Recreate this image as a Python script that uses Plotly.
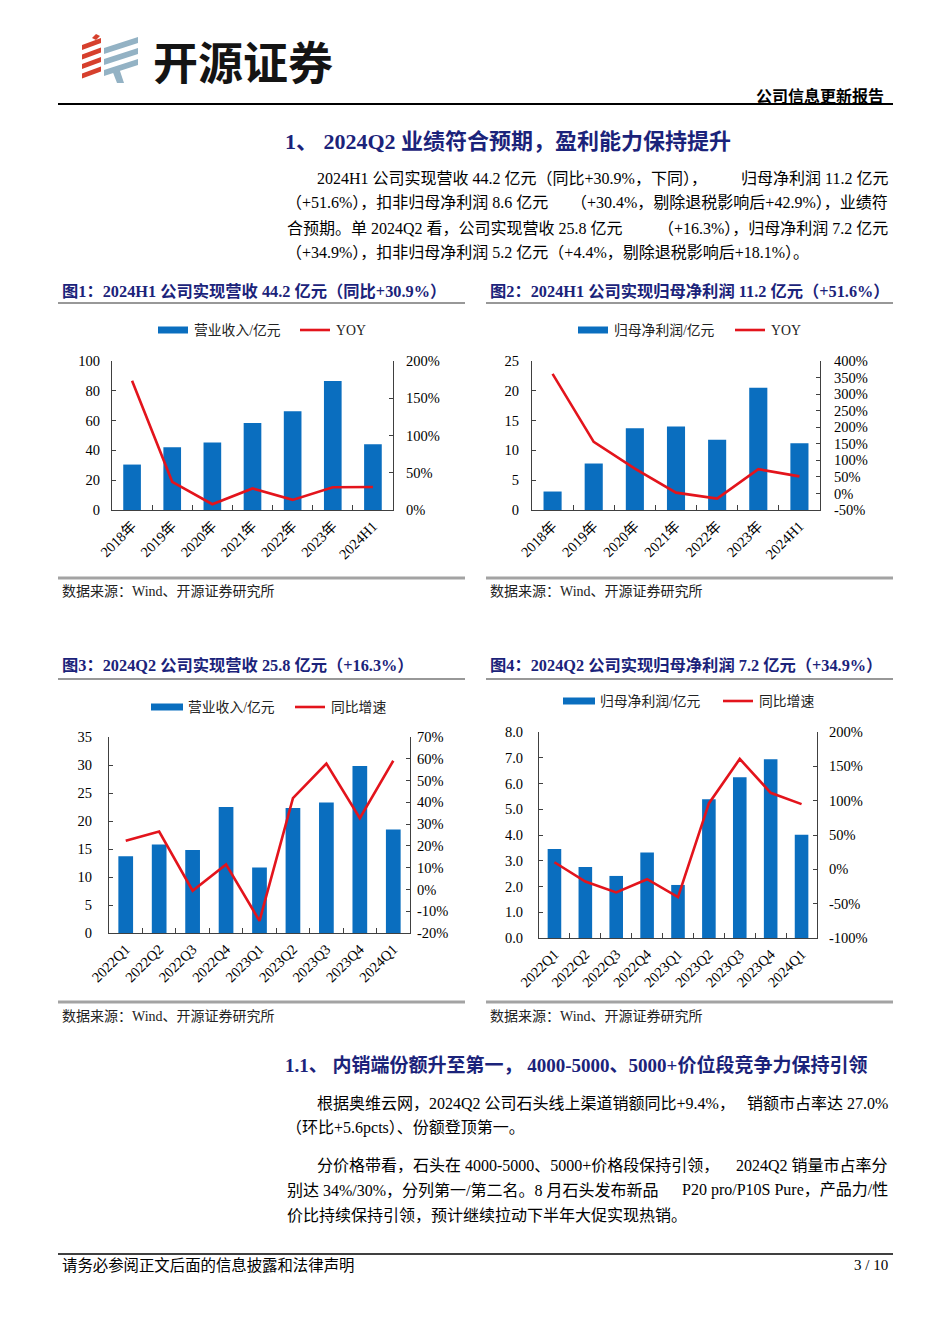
import plotly.graph_objects as go

# The page body adds an 8px margin, so the figure is drawn 8px smaller and
# all layout positions are expressed in page pixels, then shifted.
OFF = 8
W, H = 934, 1328


def X(px):
    return (px - OFF) / W


def Y(py):
    return 1 - (py - OFF) / H


# ---------------- data ----------------
cat_year = ["2018年", "2019年", "2020年", "2021年", "2022年", "2023年", "2024H1"]
revenue_year = [30.5, 42.1, 45.3, 58.4, 66.3, 86.5, 44.2]
revenue_year_yoy = [173.6, 37.8, 7.7, 28.9, 13.6, 30.6, 30.9]

profit_year = [3.1, 7.8, 13.7, 14.0, 11.8, 20.5, 11.2]
profit_year_yoy = [361.0, 155.7, 74.9, 2.4, -15.6, 73.3, 51.6]

cat_q = ["2022Q1", "2022Q2", "2022Q3", "2022Q4", "2023Q1", "2023Q2", "2023Q3", "2023Q4", "2024Q1"]
revenue_q = [13.7, 15.8, 14.8, 22.5, 11.7, 22.3, 23.3, 29.8, 18.5]
revenue_q_yoy = [22.4, 26.6, -0.6, 11.5, -14.4, 41.9, 57.8, 32.7, 59.1]

profit_q = [3.46, 2.76, 2.41, 3.32, 2.06, 5.39, 6.24, 6.94, 4.01]
profit_q_yoy = [10.3, -17.8, -33.7, -14.4, -40.5, 96.0, 160.8, 111.5, 95.0]

bar_names = ["营业收入/亿元", "归母净利润/亿元", "营业收入/亿元", "归母净利润/亿元"]
line_names = ["YOY", "YOY", "同比增速", "同比增速"]

left_ticks = [list(range(0, 101, 20)), list(range(0, 26, 5)), list(range(0, 36, 5)),
              [0, 1, 2, 3, 4, 5, 6, 7, 8]]
right_ticks = [list(range(0, 201, 50)), list(range(-50, 401, 50)), list(range(-20, 71, 10)),
               list(range(-100, 201, 50))]

# ---------------- style ----------------
BLUE = "#0A6EBF"
RED = "#E3141C"
NAVY = "#1B237A"
AX = "#404040"
SERIF = "Liberation Serif, Noto Sans CJK SC"
CJK = "Noto Sans CJK SC"
TICK = 14.5

charts = [
    dict(cats=cat_year, bars=revenue_year, line=revenue_year_yoy,
         xd=(112, 393), yd=(361, 510), lstand=8, rstand=9, lfmt="d",
         leg=dict(y=330, rect=(158, 188), txt=192, ln=(300, 330), ltxt=334)),
    dict(cats=cat_year, bars=profit_year, line=profit_year_yoy,
         xd=(532, 820), yd=(361, 510), lstand=9, rstand=10, lfmt="d",
         leg=dict(y=330, rect=(578, 608), txt=612, ln=(735, 765), ltxt=769)),
    dict(cats=cat_q, bars=revenue_q, line=revenue_q_yoy,
         xd=(109, 410), yd=(737, 933), lstand=13, rstand=3, lfmt="d",
         leg=dict(y=707, rect=(151, 183), txt=186, ln=(295, 325), ltxt=329)),
    dict(cats=cat_q, bars=profit_q, line=profit_q_yoy,
         xd=(539, 817), yd=(732, 938), lstand=12, rstand=8, lfmt=".1f",
         leg=dict(y=701, rect=(563, 595), txt=598, ln=(723, 753), ltxt=757)),
]

fig = go.Figure()
layout = dict(
    width=W, height=H, autosize=False,
    margin=dict(l=0, r=0, t=0, b=0, pad=0, autoexpand=False),
    paper_bgcolor="white", plot_bgcolor="rgba(0,0,0,0)",
    showlegend=False,
    font=dict(family=SERIF, color="#000"),
)
shapes = []
annotations = []

for i, c in enumerate(charts):
    n = i + 1
    xid = "x" if n == 1 else f"x{n}"
    yl = 2 * n - 1
    yr = 2 * n
    ylid = "y" if yl == 1 else f"y{yl}"
    yrid = f"y{yr}"
    fig.add_trace(go.Bar(x=c["cats"], y=c["bars"], name=bar_names[i], marker_color=BLUE,
                         marker_line_width=0, width=0.44, xaxis=xid, yaxis=ylid))
    fig.add_trace(go.Scatter(x=c["cats"], y=c["line"], name=line_names[i], mode="lines",
                             line=dict(color=RED, width=2.6), xaxis=xid, yaxis=yrid))
    xkey = "xaxis" if n == 1 else f"xaxis{n}"
    ylkey = "yaxis" if yl == 1 else f"yaxis{yl}"
    yrkey = f"yaxis{yr}"
    ydom = [Y(c["yd"][1]), Y(c["yd"][0])]
    layout[xkey] = dict(
        domain=[X(c["xd"][0]), X(c["xd"][1])], anchor=ylid, type="category",
        showline=True, linecolor=AX, linewidth=1, showgrid=False, zeroline=False,
        ticks="inside", tickson="boundaries", ticklen=5, tickcolor=AX,
        tickangle=-45, tickfont=dict(family=SERIF, size=TICK, color="#000"),
        ticklabelstandoff=1,
    )
    lt = left_ticks[i]
    rt = right_ticks[i]
    layout[ylkey] = dict(
        domain=ydom, anchor=xid, range=[lt[0], lt[-1]],
        tickvals=lt, tickformat=c["lfmt"],
        showline=True, linecolor=AX, linewidth=1, showgrid=False, zeroline=False,
        ticks="inside", ticklen=4, tickcolor=AX,
        tickfont=dict(family=SERIF, size=TICK, color="#000"),
        ticklabelstandoff=c["lstand"],
    )
    layout[yrkey] = dict(
        overlaying=ylid, side="right", anchor=xid, range=[rt[0], rt[-1]],
        tickvals=rt, ticktext=[f"{v}%" for v in rt],
        showline=True, linecolor=AX, linewidth=1, showgrid=False, zeroline=False,
        ticks="inside", ticklen=4, tickcolor=AX,
        tickfont=dict(family=SERIF, size=TICK, color="#000"),
        ticklabelstandoff=c["rstand"],
    )
    # manual legend
    lg = c["leg"]
    shapes.append(dict(type="rect", xref="paper", yref="paper",
                       x0=X(lg["rect"][0]), x1=X(lg["rect"][1]),
                       y0=Y(lg["y"] + 3.5), y1=Y(lg["y"] - 3.5),
                       fillcolor=BLUE, line=dict(width=0)))
    annotations.append(dict(x=X(lg["txt"]), y=Y(lg["y"]), xref="paper", yref="paper",
                            text=bar_names[i], showarrow=False, xanchor="left", yanchor="middle",
                            font=dict(family=SERIF, size=13.8, color="#222")))
    shapes.append(dict(type="line", xref="paper", yref="paper",
                       x0=X(lg["ln"][0]), x1=X(lg["ln"][1]), y0=Y(lg["y"]), y1=Y(lg["y"]),
                       line=dict(color=RED, width=2.6)))
    annotations.append(dict(x=X(lg["ltxt"]), y=Y(lg["y"]), xref="paper", yref="paper",
                            text=line_names[i], showarrow=False, xanchor="left", yanchor="middle",
                            font=dict(family=SERIF, size=13.8, color="#222")))


def hline(y, x0, x1, color="#000", width=1.0):
    shapes.append(dict(type="line", xref="paper", yref="paper", x0=X(x0), x1=X(x1),
                       y0=Y(y), y1=Y(y), line=dict(color=color, width=width)))


def text(x, y, s, size=16, color="#000", anchor="left", family=SERIF, bold=False):
    annotations.append(dict(x=X(x), y=Y(y), xref="paper", yref="paper", text=s, showarrow=False,
                            xanchor=anchor, yanchor="middle",
                            font=dict(family=family, size=size, color=color,
                                      weight="bold" if bold else "normal")))


# header
hline(104, 58, 893, "#000", 1.8)
text(886, 96, "公司信息更新报告", size=16, anchor="right", bold=True)
text(151, 60, "开源证券", size=45, family=CJK, bold=True, color="#141414")

# logo stripes
def poly(pts, color):
    d = "M " + " L ".join(f"{X(px)},{Y(py)}" for px, py in pts) + " Z"
    shapes.append(dict(type="path", xref="paper", yref="paper", path=d,
                       fillcolor=color, line=dict(width=0)))

for k in range(4):
    t = 38 + k * 9.5
    poly([(82, t + 7), (101, t), (101, t + 5), (82, t + 12)], "#D6402D")
poly([(92, 38), (96, 34), (100, 36), (96, 40)], "#D6402D")
for k in range(3):
    t = 37 + k * 11
    poly([(104, t + 11), (138, t), (138, t + 6), (104, t + 17)], "#93B2C4")
poly([(112, 70), (119, 68), (124, 83), (117, 83)], "#93B2C4")

# section heading
text(283, 141, "1、 2024Q2 业绩符合预期，盈利能力保持提升", size=22, color=NAVY, bold=True)

# paragraph 1 (justified lines split in two parts)
text(315, 179, "2024H1 公司实现营收 44.2 亿元（同比+30.9%，下同），")
text(890, 179, "归母净利润 11.2 亿元", anchor="right")
text(284, 203, "（+51.6%），扣非归母净利润 8.6 亿元")
text(890, 203, "（+30.4%，剔除退税影响后+42.9%），业绩符", anchor="right")
text(285, 228, "合预期。单 2024Q2 看，公司实现营收 25.8 亿元")
text(890, 228, "（+16.3%），归母净利润 7.2 亿元", anchor="right")
text(284, 252, "（+34.9%），扣非归母净利润 5.2 亿元（+4.4%，剔除退税影响后+18.1%）。")

# figure titles
text(60, 291, "图1：2024H1 公司实现营收 44.2 亿元（同比+30.9%）", size=16.3, color=NAVY, bold=True)
text(488, 291, "图2：2024H1 公司实现归母净利润 11.2 亿元（+51.6%）", size=16.3, color=NAVY, bold=True)
text(60, 666, "图3：2024Q2 公司实现营收 25.8 亿元（+16.3%）", size=16.3, color=NAVY, bold=True)
text(488, 666, "图4：2024Q2 公司实现归母净利润 7.2 亿元（+34.9%）", size=16.3, color=NAVY, bold=True)

for (y_top, y_bot, y_src) in [(303, 578, 591), (679, 1002, 1016)]:
    for (x0, x1, xs) in [(58, 465, 60), (486, 893, 488)]:
        hline(y_top, x0, x1, "#333", 1.2)
        hline(y_bot, x0, x1, "#A3A3A3", 3)
        text(xs, y_src, "数据来源：Wind、开源证券研究所", size=14, color="#222")

# sub heading
text(283, 1065, "1.1、 内销端份额升至第一， 4000-5000、5000+价位段竞争力保持引领", size=19,
     color=NAVY, bold=True)

text(315, 1103, "根据奥维云网，2024Q2 公司石头线上渠道销额同比+9.4%，")
text(890, 1103, "销额市占率达 27.0%", anchor="right")
text(284, 1128, "（环比+5.6pcts）、份额登顶第一。")

text(315, 1165, "分价格带看，石头在 4000-5000、5000+价格段保持引领，")
text(890, 1165, "2024Q2 销量市占率分", anchor="right")
text(285, 1190, "别达 34%/30%，分列第一/第二名。8 月石头发布新品")
text(890, 1190, "P20 pro/P10S Pure，产品力/性", anchor="right")
text(285, 1215, "价比持续保持引领，预计继续拉动下半年大促实现热销。")

# footer
hline(1254, 58, 893, "#000", 1.5)
text(60, 1265, "请务必参阅正文后面的信息披露和法律声明", size=15.4)
text(890, 1265, "3 / 10", size=15, anchor="right")

layout["shapes"] = shapes
layout["annotations"] = annotations
fig.update_layout(**layout)
fig.write_html("out.html")
